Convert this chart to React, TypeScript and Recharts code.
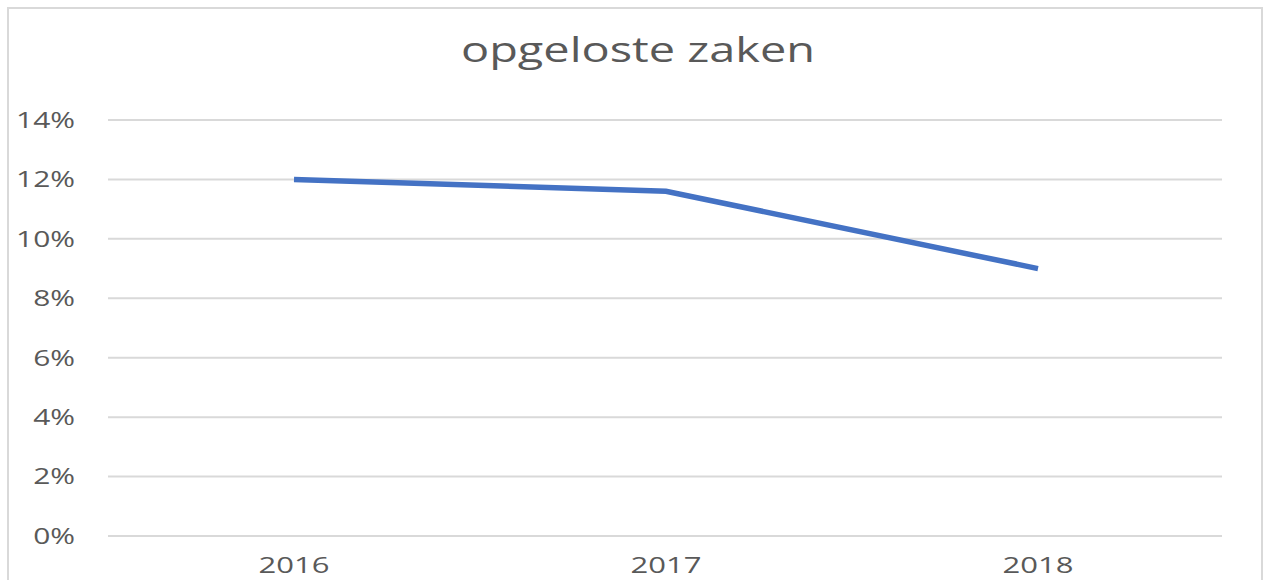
import React from 'react';
import { LineChart, Line, XAxis, YAxis, CartesianGrid } from 'recharts';

const years = ['2016', '2017', '2018'];
const solvedShare = [0.12, 0.116, 0.09];
const yTicks = [0, 0.02, 0.04, 0.06, 0.08, 0.1, 0.12, 0.14];

const chartData = years.map((year, i) => ({ year, value: solvedShare[i] }));

const textColor = '#595959';
const stretch = 1.36;

const pct = (v: number) => `${Math.round(v * 100)}%`;

const YTick = (props: any) => {
  const { x, y, payload } = props;
  return (
    <g transform={`translate(${x},${y})`}>
      <text transform={`scale(${stretch},1)`} textAnchor="end" dy="0.355em" fill={textColor} fontSize={22}>
        {pct(payload.value)}
      </text>
    </g>
  );
};

const XTick = (props: any) => {
  const { x, y, payload } = props;
  return (
    <g transform={`translate(${x},${y})`}>
      <text transform={`scale(${stretch + 0.05},1)`} textAnchor="middle" dy="0.71em" fill={textColor} fontSize={22}>
        {payload.value}
      </text>
    </g>
  );
};

export default function App() {
  return (
    <div
      style={{
        position: 'absolute',
        left: 7,
        top: 7,
        width: 1256,
        height: 573,
        boxSizing: 'border-box',
        border: '2px solid #d9d9d9',
        borderBottom: 'none',
        background: '#fff',
        fontFamily: '"Open Sans", sans-serif',
        overflow: 'hidden',
      }}
    >
      <div
        style={{
          position: 'absolute',
          left: 3,
          top: 22,
          width: '100%',
          textAlign: 'center',
          fontSize: 35,
          lineHeight: '36px',
          color: textColor,
          transform: 'scaleX(1.34)',
        }}
      >
        opgeloste zaken
      </div>
      <LineChart width={1252} height={571} data={chartData} margin={{ top: 111, right: 39, left: 39, bottom: 4 }}>
        <CartesianGrid vertical={false} stroke="#d9d9d9" strokeWidth={2} />
        <XAxis
          dataKey="year"
          axisLine={false}
          tickLine={false}
          tickSize={0}
          tickMargin={21}
          height={40}
          padding={{ left: 186, right: 184 }}
          tick={<XTick />}
        />
        <YAxis
          domain={[0, 0.14]}
          ticks={yTicks}
          axisLine={false}
          tickLine={false}
          tickSize={0}
          tickMargin={33}
          width={60}
          tick={<YTick />}
          interval={0}
        />
        <Line
          type="linear"
          dataKey="value"
          stroke="#4472c4"
          strokeWidth={5.5}
          dot={false}
          activeDot={false}
          isAnimationActive={false}
        />
      </LineChart>
    </div>
  );
}
